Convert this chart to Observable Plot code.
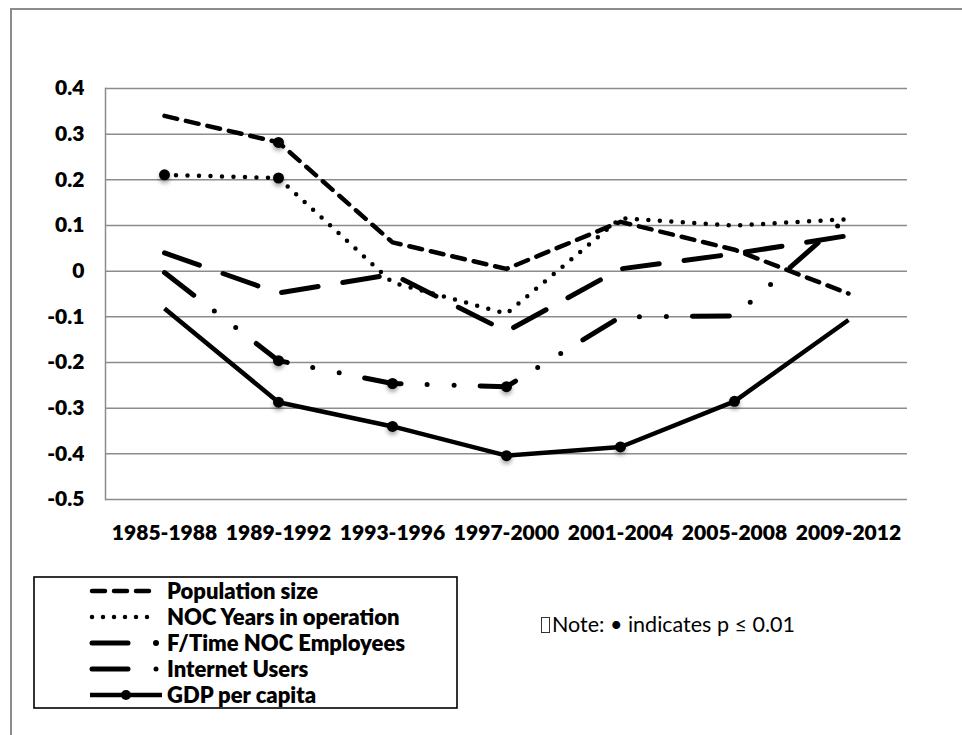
<!DOCTYPE html>
<html>
<head>
<meta charset="utf-8">
<script src="https://cdn.jsdelivr.net/npm/d3@7"></script>
<script src="https://cdn.jsdelivr.net/npm/@observablehq/plot@0.6"></script>
<style>
  body { margin: 0; background: #fff; }
  #wrap { position: relative; width: 962px; height: 735px; overflow: hidden; font-family: Lato, "Open Sans", sans-serif; }
  #frame { position: absolute; left: 10px; top: 8px; width: 980px; height: 760px; border-top: 2px solid #8c8c8c; border-left: 2px solid #8c8c8c; }
  #chart { position: absolute; left: 0; top: 0; }
  #legend { position: absolute; left: 0; top: 0; }
  #note { position: absolute; left: 541px; top: 611px; font-size: 21.5px; color: #000; white-space: nowrap; }
  #note .box { display: inline-block; width: 7px; height: 14px; border: 1px solid #333; margin-right: 2px; vertical-align: -1px; }
</style>
</head>
<body>
<div id="wrap">
  <div id="frame"></div>
  <div id="chart"></div>
  <div id="note"><span class="box"></span>Note: • indicates p ≤ 0.01</div>
</div>
<script>
// ---- data ----
const periods = ["1985-1988", "1989-1992", "1993-1996", "1997-2000", "2001-2004", "2005-2008", "2009-2012"];
const seriesNames = ["Population size", "NOC Years in operation", "F/Time NOC Employees", "Internet Users", "GDP per capita"];
const population    = [0.34, 0.282, 0.063, 0.005, 0.108, 0.047, -0.049];
const nocYears      = [0.211, 0.204, -0.025, -0.093, 0.116, 0.100, 0.114];
const ftEmployees   = [0.040, -0.048, -0.007, -0.132, 0.005, 0.038, 0.078];
const internetUsers = [-0.003, -0.196, -0.246, -0.253, -0.100, -0.098, 0.120];
const gdpPerCapita  = [-0.082, -0.287, -0.340, -0.404, -0.385, -0.285, -0.107];
// significance (p <= 0.01) flags per point
const populationSig = [0, 1, 0, 0, 0, 0, 0];
const nocYearsSig   = [1, 1, 0, 0, 0, 0, 0];
const ftEmployeesSig= [0, 0, 0, 0, 0, 0, 0];
const internetSig   = [0, 1, 1, 1, 0, 0, 0];
const gdpSig        = [0, 1, 1, 1, 1, 1, 0];
const yTicks = [-0.5, -0.4, -0.3, -0.2, -0.1, 0, 0.1, 0.2, 0.3, 0.4];
const yTickLabels = ["-0.5", "-0.4", "-0.3", "-0.2", "-0.1", "0", "0.1", "0.2", "0.3", "0.4"];

const seriesValues = [population, nocYears, ftEmployees, internetUsers, gdpPerCapita];
const seriesSig = [populationSig, nocYearsSig, ftEmployeesSig, internetSig, gdpSig];
const dashes = ["13,9", "0,11.5", "37,25", "37,26,0,27,0,26", null];
const widths = [4.5, 4.5, 5, 5, 4.5];

const rows = seriesNames.map((s, k) => periods.map((p, i) => ({series: s, period: p, value: seriesValues[k][i], sig: seriesSig[k][i]})));
const sigRows = rows.flat().filter(d => d.sig);

const lineMarks = rows.map((r, k) => Plot.line(r, {
  x: "period", y: "value", stroke: "black", strokeWidth: widths[k],
  strokeDasharray: dashes[k] || undefined, strokeLinecap: dashes[k] ? "round" : "butt", strokeLinejoin: "round"
}));

const chart = Plot.plot({
  width: 962, height: 560,
  marginLeft: 105, marginRight: 55, marginTop: 88, marginBottom: 61,
  x: {type: "point", domain: periods, padding: 0.5, label: null, tickSize: 0, tickPadding: 26},
  y: {domain: [-0.5, 0.4], ticks: yTicks, tickFormat: v => yTickLabels[yTicks.findIndex(t => Math.abs(t - v) < 1e-9)], label: null, tickSize: 0, tickPadding: 21},
  style: {fontFamily: "Lato, 'Open Sans', sans-serif", fontSize: "21px", fontWeight: "800", color: "#000", background: "transparent"},
  marks: [
    Plot.ruleY(yTicks, {stroke: "#8c8c8c", strokeWidth: 1.5}),
    Plot.frame({anchor: "left", stroke: "#8c8c8c", strokeWidth: 1.5}),
    ...lineMarks,
    Plot.dot(sigRows, {x: "period", y: "value", r: 5.5, fill: "black", stroke: "none"})
  ]
});
d3.select(chart).selectAll('g[aria-label="dot"]').style("filter", "drop-shadow(0px 3px 2px rgba(0,0,0,0.35))");
document.getElementById("chart").appendChild(chart);

// ---- legend ----
const lg = d3.select("#wrap").append("svg").attr("id", "legend").attr("width", 962).attr("height", 735);
lg.append("rect").attr("x", 34).attr("y", 577).attr("width", 423).attr("height", 131)
  .attr("fill", "none").attr("stroke", "#000").attr("stroke-width", 1.6);
const rowY = [591, 617, 643, 669, 695];
seriesNames.forEach((name, k) => {
  const y = rowY[k];
  const g = lg.append("g");
  if (k === 0) {
    g.append("line").attr("x1", 92).attr("x2", 151).attr("y1", y).attr("y2", y)
      .attr("stroke", "#000").attr("stroke-width", 4.5).attr("stroke-linecap", "round").attr("stroke-dasharray", "13,9");
  } else if (k === 1) {
    g.append("line").attr("x1", 92).attr("x2", 150).attr("y1", y).attr("y2", y)
      .attr("stroke", "#000").attr("stroke-width", 4.5).attr("stroke-linecap", "round").attr("stroke-dasharray", "0,11");
  } else if (k === 2 || k === 3) {
    g.append("line").attr("x1", 92).attr("x2", 128).attr("y1", y).attr("y2", y)
      .attr("stroke", "#000").attr("stroke-width", 5).attr("stroke-linecap", "round");
    g.append("circle").attr("cx", 156).attr("cy", y).attr("r", k === 2 ? 3 : 2.5).attr("fill", "#000");
  } else {
    g.append("line").attr("x1", 90).attr("x2", 162).attr("y1", y).attr("y2", y)
      .attr("stroke", "#000").attr("stroke-width", 4.5);
    g.append("circle").attr("cx", 126).attr("cy", y).attr("r", 5).attr("fill", "#000");
  }
  lg.append("text").attr("x", 167).attr("y", y).attr("dy", "0.35em")
    .attr("font-family", "Lato, 'Open Sans', sans-serif").attr("font-size", 22).attr("font-weight", "800")
    .attr("fill", "#000").text(name);
});
</script>
</body>
</html>
